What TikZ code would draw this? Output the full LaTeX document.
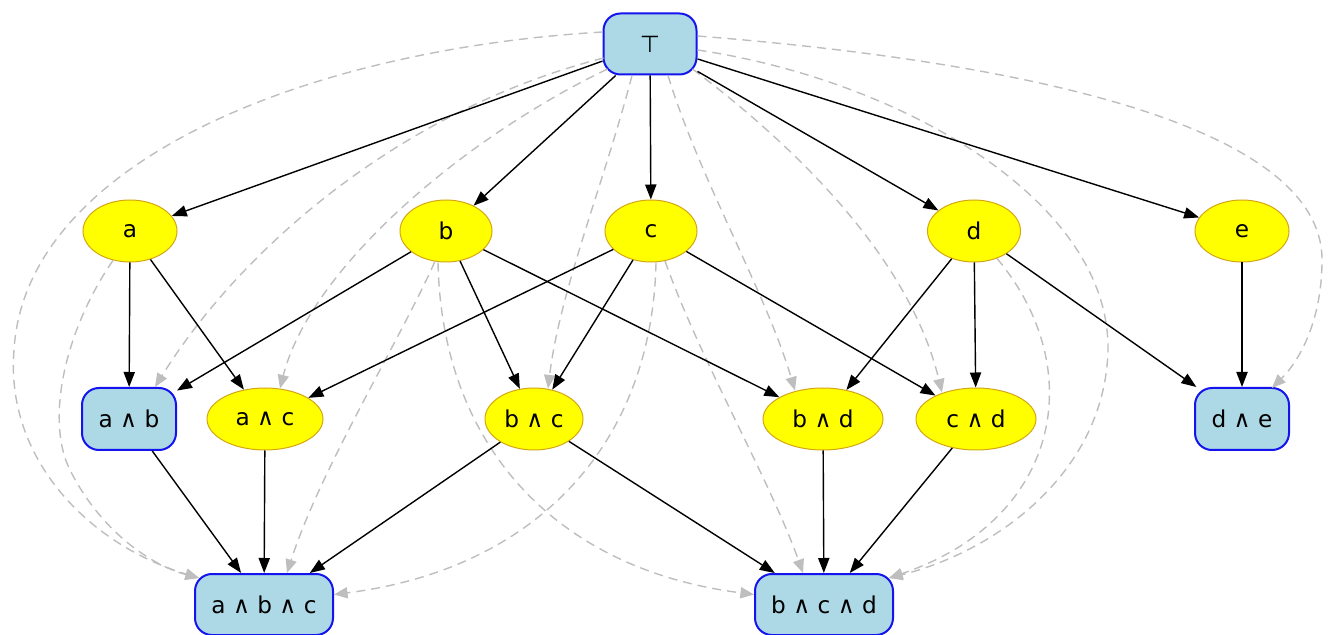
\documentclass[tikz,border=0pt]{standalone}
\usepackage{fontspec}
\setmainfont{DejaVu Sans}
\usetikzlibrary{arrows.meta,shapes.geometric}
\definecolor{atomfill}{HTML}{FFFF00}
\definecolor{atomline}{HTML}{D4A514}
\definecolor{conjfill}{HTML}{ADD8E6}
\definecolor{conjline}{HTML}{1414EE}
\definecolor{impliedgray}{HTML}{BEBEBE}
\begin{document}
\begin{tikzpicture}[x=0.5pt,y=-0.5pt,
  font=\fontsize{11.6}{13}\selectfont,
  atom/.style={ellipse, fill=atomfill, draw=atomline, line width=0.5pt,
    minimum height=31pt, inner sep=0pt},
  conj/.style={rectangle, rounded corners=8.5pt, fill=conjfill, draw=conjline,
    line width=1pt, minimum height=30.5pt, inner sep=0pt},
  strictarrow/.style={-{Triangle[length=7.5pt,width=5.6pt]}, line width=0.7pt, draw=black},
  weakarrow/.style={-{Triangle[length=6.8pt,width=5.6pt]}, draw=impliedgray,
    dash pattern=on 4.5pt off 3pt, line width=0.7pt}
]
\useasboundingbox (0,0) rectangle (1332,635);

% nodes of the lattice
\node[conj, minimum width=46.5pt] (top) at (650,44) {⊤};

\node[atom, minimum width=47pt] (a) at (130,231) {a};
\node[atom, minimum width=46pt] (b) at (446,231) {b};
\node[atom, minimum width=46pt] (c) at (651,231) {c};
\node[atom, minimum width=46.5pt] (d) at (974,231) {d};
\node[atom, minimum width=47pt] (e) at (1242,231) {e};

\node[conj, minimum width=47pt, minimum height=31pt] (ab) at (129,419) {a ∧ b};
\node[atom, minimum width=58pt] (ac) at (265,419) {a ∧ c};
\node[atom, minimum width=49pt] (bc) at (534,419) {b ∧ c};
\node[atom, minimum width=60pt] (bd) at (823,419) {b ∧ d};
\node[atom, minimum width=60pt] (cd) at (976,419) {c ∧ d};
\node[conj, minimum width=47pt, minimum height=31pt] (de) at (1242,419) {d ∧ e};

\node[conj, minimum width=69pt] (abc) at (264,604.5) {a ∧ b ∧ c};
\node[conj, minimum width=69pt] (bcd) at (824,604.5) {b ∧ c ∧ d};

% implied (transitive) edges, drawn underneath
\draw[weakarrow] ([shift={(0,-12)}]top.west)
  .. controls (300,50) and (25,165) .. (14,350)
  .. controls (5,460) and (90,545) .. ([shift={(5,5)}]abc.north west);
\draw[weakarrow] (a.240)
  .. controls (65,330) and (45,420) .. (70,470)
  .. controls (100,530) and (150,565) .. ([shift={(5,5)}]abc.north west);
\draw[weakarrow] ([shift={(1,14)}]top.west)
  .. controls (400,110) and (240,250) .. ([shift={(26,0)}]ab.north);
\draw[weakarrow] ([shift={(5,25)}]top.west)
  .. controls (460,140) and (310,270) .. ([shift={(15,1)}]ac.north);
\draw[weakarrow] ([shift={(-18,0)}]top.south)
  .. controls (605,180) and (560,290) .. ([shift={(14,1)}]bc.north);
\draw[weakarrow] ([shift={(18,0)}]top.south)
  .. controls (700,180) and (765,290) .. ([shift={(-28,3)}]bd.north);
\draw[weakarrow] ([shift={(-5,25)}]top.east)
  .. controls (800,150) and (910,260) .. ([shift={(-34,5)}]cd.north);
\draw[weakarrow] ([shift={(0,-8)}]top.east)
  .. controls (1000,60) and (1322,120) .. (1322,260)
  .. controls (1322,320) and (1300,360) .. ([shift={(30,1)}]de.north);
\draw[weakarrow] ([shift={(0,6)}]top.east)
  .. controls (900,80) and (1110,200) .. (1108,350)
  .. controls (1105,470) and (1000,550) .. ([shift={(-5,5)}]bcd.north east);
\draw[weakarrow] (b.250)
  .. controls (400,340) and (320,470) .. ([shift={(23,0)}]abc.north);
\draw[weakarrow] ([shift={(-8,0)}]b.south)
  .. controls (442,450) and (560,570) .. ([shift={(0,-10)}]bcd.west);
\draw[weakarrow] ([shift={(5,0)}]c.south)
  .. controls (652,450) and (530,570) .. ([shift={(0,-10)}]abc.east);
\draw[weakarrow] (c.295)
  .. controls (700,360) and (770,480) .. ([shift={(-21,0)}]bcd.north);
\draw[weakarrow] (d.310)
  .. controls (1090,370) and (1060,520) .. ([shift={(-5,5)}]bcd.north east);

% direct (covering) edges
\draw[strictarrow] (top) -- (a);
\draw[strictarrow] (top) -- (b);
\draw[strictarrow] (top) -- (c);
\draw[strictarrow] (top) -- (d);
\draw[strictarrow] (top) -- (e);
\draw[strictarrow] (a) -- (ab);
\draw[strictarrow] (a) -- (ac);
\draw[strictarrow] (b) -- (ab);
\draw[strictarrow] (b) -- (bc);
\draw[strictarrow] (b) -- (bd);
\draw[strictarrow] (c) -- (ac);
\draw[strictarrow] (c) -- (bc);
\draw[strictarrow] (c) -- (cd);
\draw[strictarrow] (d) -- (bd);
\draw[strictarrow] (d) -- (cd);
\draw[strictarrow] (d) -- (de);
\draw[strictarrow] (e) -- (de);
\draw[strictarrow] (ab) -- (abc);
\draw[strictarrow] (ac) -- (abc);
\draw[strictarrow] (bc) -- (abc);
\draw[strictarrow] (bc) -- (bcd);
\draw[strictarrow] (bd) -- (bcd);
\draw[strictarrow] (cd) -- (bcd);
\end{tikzpicture}
\end{document}
